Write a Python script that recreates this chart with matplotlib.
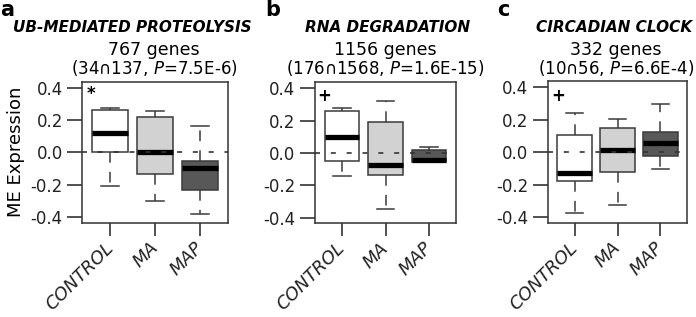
import matplotlib
matplotlib.use('Agg')
import matplotlib.pyplot as plt

### data ##########

groups = ['CONTROL', 'MA', 'MAP']
ytick_vals = [0.4, 0.2, 0.0, -0.2, -0.4]
ytick_labels = ['0.4', '0.2', '0.0', '-0.2', '-0.4']

# panel a - UB-mediated proteolysis
a_whislo = [-0.208, -0.303, -0.381]
a_q1 = [0.0, -0.132, -0.231]
a_med = [0.118, 0.004, -0.099]
a_q3 = [0.262, 0.216, -0.054]
a_whishi = [0.274, 0.256, 0.165]

# panel b - RNA degradation
b_whislo = [-0.145, -0.345, -0.057]
b_q1 = [-0.047, -0.137, -0.057]
b_med = [0.098, -0.076, -0.041]
b_q3 = [0.261, 0.194, 0.018]
b_whishi = [0.278, 0.322, 0.039]

# panel c - circadian clock
c_whislo = [-0.374, -0.329, -0.107]
c_q1 = [-0.179, -0.121, -0.025]
c_med = [-0.129, 0.014, 0.057]
c_q3 = [0.107, 0.146, 0.125]
c_whishi = [0.242, 0.205, 0.296]

panels = [
    {'letter': 'a', 'title': 'UB-MEDIATED PROTEOLYSIS', 'genes': '767 genes',
     'pre': '(34\u2229137, ', 'pval': '=7.5E-6)', 'mark': '*',
     'stats': [a_whislo, a_q1, a_med, a_q3, a_whishi]},
    {'letter': 'b', 'title': 'RNA DEGRADATION', 'genes': '1156 genes',
     'pre': '(176\u22291568, ', 'pval': '=1.6E-15)', 'mark': '+',
     'stats': [b_whislo, b_q1, b_med, b_q3, b_whishi]},
    {'letter': 'c', 'title': 'CIRCADIAN CLOCK', 'genes': '332 genes',
     'pre': '(10\u222956, ', 'pval': '=6.6E-4)', 'mark': '+',
     'stats': [c_whislo, c_q1, c_med, c_q3, c_whishi]},
]

####################

W, H = 696, 317
fills = ['white', '#d2d2d2', '#585858']
edge = '#3a3a3a'

# layout in pixels: axes box (left, top, right, bottom), header centres, letter pos
boxes_px = [(82.3, 81.5, 228.3, 222.7), (314.7, 82.3, 456.3, 223.3), (547.7, 81.0, 687.3, 222.7)]
title_x = [132, 388, 614]
sub_x = [154, 385, 616]
letter_x = [0, 265, 497]
mark_pos = [(0.06, 0.915), (0.064, 0.9), (0.076, 0.895)]

fig = plt.figure(figsize=(W / 100, H / 100), dpi=100)


def px(x, y):
    return x / W, 1 - y / H


for i, p in enumerate(panels):
    l, t, r, b = boxes_px[i]
    ax = fig.add_axes([l / W, 1 - b / H, (r - l) / W, (b - t) / H])
    whislo, q1, med, q3, whishi = p['stats']
    stats = [{'whislo': whislo[k], 'q1': q1[k], 'med': med[k], 'q3': q3[k],
              'whishi': whishi[k], 'fliers': []} for k in range(3)]
    bp = ax.bxp(stats, positions=[1, 2, 3], widths=0.8, showfliers=False,
                patch_artist=True,
                boxprops=dict(edgecolor=edge, linewidth=1.1),
                medianprops=dict(color='black', linewidth=3.8, solid_capstyle='butt'),
                whiskerprops=dict(color=edge, linewidth=1.1, linestyle=(0, (7, 6))),
                capprops=dict(color=edge, linewidth=1.1))
    for patch, fc in zip(bp['boxes'], fills):
        patch.set_facecolor(fc)
    ax.axhline(0, color='#333333', linewidth=1.2, linestyle=(0, (3, 6.5)), zorder=5)

    ax.set_xlim(0.375, 3.625)
    ax.set_ylim(-0.435, 0.438)
    ax.set_yticks(ytick_vals, labels=ytick_labels)
    ax.set_xticks([1, 2, 3])
    ax.set_xticklabels(groups, rotation=45, ha='right', va='center',
                       rotation_mode='anchor', fontstyle='italic', fontsize=13)
    ax.tick_params(axis='y', length=11, width=1.1, pad=3, labelsize=12, colors='#222222')
    ax.tick_params(axis='x', length=9, width=1.1, pad=7, colors='#222222')
    for s in ax.spines.values():
        s.set_linewidth(1.1)
        s.set_color('#333333')
    ax.text(mark_pos[i][0], mark_pos[i][1], p['mark'], transform=ax.transAxes,
            ha='center', va='center', fontsize=12, fontweight='bold')
    if i == 0:
        ax.set_ylabel('ME Expression', fontsize=13, labelpad=4)

    # header lines
    fig.text(*px(letter_x[i], 16), p['letter'], fontsize=15, fontweight='bold',
             ha='left', va='baseline')
    fig.text(*px(title_x[i], 32), p['title'], fontsize=11, fontweight='bold',
             fontstyle='italic', ha='center', va='baseline')
    fig.text(*px(sub_x[i], 55), p['genes'], fontsize=12.5, ha='center', va='baseline')
    fig.text(*px(sub_x[i], 74), p['pre'] + '$\\it{P}$' + p['pval'], fontsize=12,
             ha='center', va='baseline')

plt.savefig('out.png', dpi=100)
